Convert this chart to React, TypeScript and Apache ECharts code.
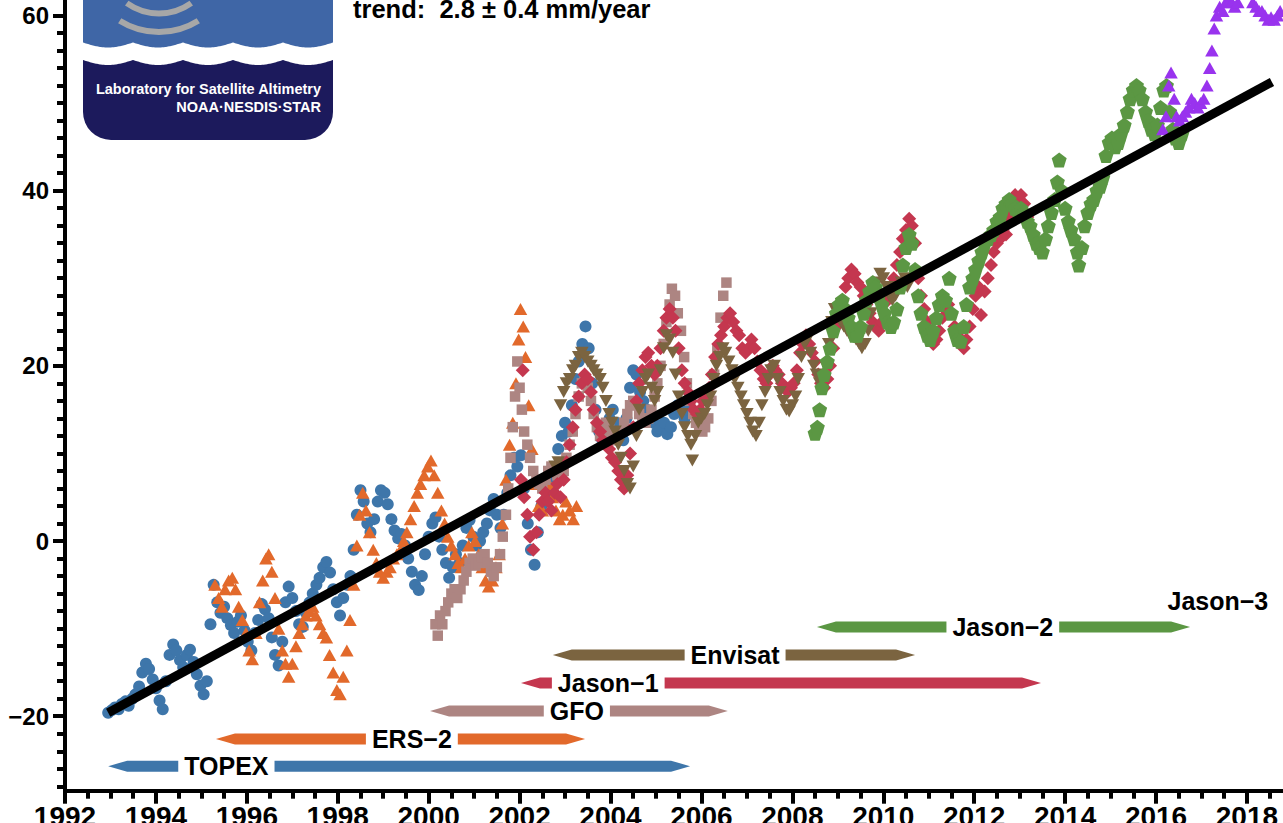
import React, { useEffect, useRef } from "react";
import * as echarts from "echarts";

// ---------------- data ----------------
const topexData: number[][] = [
  [1992.95,-19.6],[1993.03,-19.3],[1993.1,-19.0],[1993.18,-19.2],[1993.25,-18.6],[1993.33,-18.3],[1993.4,-18.8],[1993.48,-18.0],[1993.55,-17.5],[1993.63,-16.6],[1993.7,-15.0],[1993.78,-14.0],[1993.85,-14.6],[1993.93,-15.8],[1994.0,-16.8],[1994.08,-18.2],[1994.15,-19.2],[1994.22,-16.0],[1994.3,-13.0],[1994.38,-11.8],[1994.45,-12.5],[1994.53,-13.6],[1994.6,-14.4],[1994.68,-13.0],[1994.75,-12.4],[1994.83,-13.8],[1994.9,-15.2],[1994.98,-16.5],[1995.05,-17.5],[1995.12,-16.0],[1995.2,-9.5],[1995.27,-5.0],[1995.35,-7.0],[1995.42,-8.2],[1995.5,-7.5],[1995.57,-8.8],[1995.65,-9.6],[1995.72,-10.5],[1995.8,-9.2],[1995.87,-8.5],[1995.95,-10.2],[1996.02,-11.5],[1996.1,-12.5],[1996.18,-10.5],[1996.25,-9.0],[1996.33,-7.2],[1996.4,-7.8],[1996.48,-8.8],[1996.55,-11.0],[1996.62,-13.0],[1996.7,-14.2],[1996.78,-11.5],[1996.85,-7.0],[1996.92,-5.2],[1997.0,-6.5],[1997.08,-8.0],[1997.15,-9.5],[1997.23,-9.8],[1997.3,-8.2],[1997.38,-7.0],[1997.45,-6.0],[1997.53,-5.0],[1997.6,-4.2],[1997.68,-3.0],[1997.75,-2.4],[1997.83,-3.6],[1997.9,-5.5],[1997.98,-7.0],[1998.05,-8.5],[1998.12,-6.5],[1998.2,-5.0],[1998.28,-4.0],[1998.35,-1.0],[1998.42,3.0],[1998.5,5.8],[1998.57,4.5],[1998.65,2.0],[1998.72,1.0],[1998.8,2.5],[1998.88,4.5],[1998.95,5.8],[1999.03,5.5],[1999.1,4.2],[1999.18,2.5],[1999.25,1.2],[1999.33,0.3],[1999.4,0.8],[1999.48,-0.5],[1999.55,-2.0],[1999.63,-3.5],[1999.7,-5.0],[1999.78,-5.6],[1999.85,-4.0],[1999.92,-1.5],[2000.0,0.5],[2000.08,2.0],[2000.15,2.7],[2000.23,0.5],[2000.3,-1.0],[2000.38,-2.5],[2000.45,-4.2],[2000.53,-3.0],[2000.6,-1.5],[2000.68,-2.5],[2000.75,-0.5],[2000.83,1.5],[2000.9,2.4],[2000.98,0.5],[2001.05,-0.5],[2001.13,0.0],[2001.2,1.0],[2001.28,2.0],[2001.35,3.5],[2001.43,4.8],[2001.5,3.0],[2001.58,1.5],[2001.65,3.0],[2001.73,5.5],[2001.8,7.5],[2001.88,9.5],[2001.95,8.5],[2002.03,9.8],[2002.1,6.0],[2002.18,2.0],[2002.25,-1.0],[2002.33,-2.7],[2002.4,1.0],[2002.48,4.0],[2002.55,6.0],[2002.63,7.0],[2002.7,5.5],[2002.78,8.0],[2002.85,10.5],[2002.93,12.0],[2003.0,13.5],[2003.08,12.5],[2003.15,15.5],[2003.23,18.5],[2003.3,20.5],[2003.38,22.5],[2003.45,24.5],[2003.52,22.0],[2003.6,18.0],[2003.67,15.0],[2003.75,12.5],[2003.82,11.5],[2003.9,12.5],[2003.98,14.0],[2004.05,15.0],[2004.13,13.5],[2004.2,12.0],[2004.28,11.5],[2004.35,14.0],[2004.43,17.5],[2004.5,19.5],[2004.57,19.0],[2004.65,17.0],[2004.72,16.0],[2004.8,15.0],[2004.88,14.0],[2004.95,13.5],[2005.03,12.5],[2005.1,12.8],[2005.18,13.5],[2005.25,12.2],[2005.33,13.0],[2005.4,14.5],[2005.48,15.5],[2005.55,14.8],[2005.63,14.0],[2005.7,15.0]
];

const ers2Data: number[][] = [
  [1995.3,-5.0],[1995.38,-6.5],[1995.45,-7.5],[1995.52,-5.5],[1995.6,-4.5],[1995.68,-4.2],[1995.75,-5.5],[1995.82,-7.5],[1995.9,-9.0],[1995.98,-10.5],[1996.05,-12.5],[1996.12,-13.5],[1996.2,-10.5],[1996.28,-7.0],[1996.35,-4.5],[1996.42,-2.0],[1996.48,-1.5],[1996.55,-3.5],[1996.62,-6.5],[1996.7,-10.0],[1996.78,-12.5],[1996.85,-14.0],[1996.92,-15.5],[1997.0,-14.0],[1997.08,-12.0],[1997.15,-10.5],[1997.22,-9.5],[1997.3,-8.5],[1997.38,-8.0],[1997.45,-7.5],[1997.52,-8.5],[1997.6,-9.5],[1997.68,-10.5],[1997.75,-11.0],[1997.82,-13.0],[1997.9,-15.0],[1997.98,-17.0],[1998.05,-17.5],[1998.12,-15.5],[1998.2,-12.5],[1998.27,-9.0],[1998.35,-5.0],[1998.42,-0.5],[1998.48,3.0],[1998.55,5.5],[1998.62,3.5],[1998.7,1.0],[1998.78,-1.0],[1998.85,-2.5],[1998.92,-3.5],[1999.0,-4.2],[1999.08,-3.5],[1999.15,-3.0],[1999.22,-2.0],[1999.3,-1.5],[1999.38,-1.0],[1999.45,0.0],[1999.52,1.0],[1999.6,2.5],[1999.68,4.0],[1999.75,5.5],[1999.82,6.5],[1999.9,7.5],[1999.98,8.5],[2000.05,9.2],[2000.12,7.5],[2000.2,5.5],[2000.28,3.5],[2000.35,2.0],[2000.42,0.5],[2000.5,-0.5],[2000.58,-1.5],[2000.65,-2.5],[2000.72,-3.0],[2000.8,-2.0],[2000.88,-0.5],[2000.95,1.0],[2001.02,0.0],[2001.1,-1.5],[2001.18,-3.0],[2001.25,-4.5],[2001.32,-5.2],[2001.4,-4.5],[2001.48,-3.0],[2001.55,-1.5],[2001.62,2.0],[2001.7,7.0],[2001.78,11.0],[2001.85,13.5],[2001.92,18.0],[2001.98,23.0],[2002.02,26.5],[2002.08,24.5],[2002.13,21.0],[2002.2,15.5],[2002.27,10.5],[2002.35,6.5],[2002.42,4.0],[2002.5,3.5],[2002.58,5.0],[2002.65,6.5],[2002.72,5.0],[2002.8,3.5],[2002.88,2.5],[2002.95,3.0],[2003.02,4.5],[2003.1,3.5],[2003.18,2.5],[2003.25,4.0]
];

const gfoData: number[][] = [
  [2000.15,-9.5],[2000.2,-10.8],[2000.25,-8.5],[2000.3,-9.5],[2000.37,-8.0],[2000.43,-7.0],[2000.5,-6.0],[2000.57,-5.5],[2000.63,-6.5],[2000.7,-5.5],[2000.77,-4.5],[2000.83,-3.5],[2000.9,-2.5],[2000.97,-2.0],[2001.03,-2.8],[2001.1,-2.5],[2001.17,-1.8],[2001.23,-1.5],[2001.3,-2.5],[2001.37,-3.5],[2001.43,-4.0],[2001.5,-3.0],[2001.57,-1.5],[2001.63,0.5],[2001.7,3.0],[2001.75,6.0],[2001.8,9.5],[2001.85,13.0],[2001.9,16.5],[2001.95,20.5],[2002.0,17.5],[2002.05,15.0],[2002.1,12.5],[2002.17,11.0],[2002.23,9.5],[2002.3,8.0],[2002.37,7.0],[2002.43,6.5],[2002.5,6.0],[2002.57,7.0],[2002.63,8.0],[2002.7,8.5],[2002.77,8.0],[2002.83,7.5],[2002.9,7.0],[2002.97,8.0],[2003.03,9.5],[2003.1,11.0],[2003.17,12.5],[2003.23,14.5],[2003.3,16.5],[2003.37,18.0],[2003.43,18.5],[2003.5,17.5],[2003.57,16.0],[2003.63,14.5],[2003.7,13.0],[2003.77,12.0],[2003.83,12.5],[2003.9,13.5],[2003.97,13.0],[2004.03,12.0],[2004.1,11.5],[2004.17,12.0],[2004.23,12.5],[2004.3,13.5],[2004.37,14.5],[2004.43,15.5],[2004.5,16.0],[2004.57,15.5],[2004.63,14.5],[2004.7,14.0],[2004.77,13.5],[2004.83,14.0],[2004.9,15.0],[2004.97,16.5],[2005.03,18.0],[2005.1,20.0],[2005.17,22.5],[2005.23,25.0],[2005.3,27.0],[2005.35,28.8],[2005.42,28.0],[2005.48,26.0],[2005.55,24.0],[2005.62,21.0],[2005.68,18.0],[2005.75,16.0],[2005.82,14.5],[2005.88,13.5],[2005.95,13.0],[2006.02,12.5],[2006.08,13.0],[2006.15,14.0],[2006.22,16.0],[2006.28,19.0],[2006.35,22.0],[2006.42,25.5],[2006.48,28.0],[2006.55,29.5]
];

const jason1Data: number[][] = [
  [2002.03,7.0],[2002.07,19.5],[2002.1,5.0],[2002.17,3.0],[2002.23,0.5],[2002.3,-1.0],[2002.37,1.0],[2002.43,3.0],[2002.5,4.5],[2002.57,5.5],[2002.63,4.5],[2002.7,3.5],[2002.77,5.5],[2002.83,6.5],[2002.9,5.0],[2002.97,7.0],[2003.03,9.0],[2003.1,11.0],[2003.17,13.0],[2003.23,15.0],[2003.3,16.5],[2003.37,18.0],[2003.43,19.0],[2003.5,18.5],[2003.57,17.0],[2003.63,15.0],[2003.7,13.5],[2003.77,12.5],[2003.83,11.5],[2003.9,11.0],[2003.97,10.5],[2004.03,9.5],[2004.1,9.0],[2004.17,8.0],[2004.23,7.0],[2004.3,6.0],[2004.37,7.5],[2004.43,10.0],[2004.5,13.0],[2004.57,16.0],[2004.63,18.0],[2004.7,19.5],[2004.77,21.0],[2004.83,21.5],[2004.9,20.0],[2004.97,19.0],[2005.03,20.0],[2005.1,22.0],[2005.17,24.0],[2005.23,25.5],[2005.3,26.5],[2005.37,25.5],[2005.43,24.0],[2005.5,22.0],[2005.57,19.5],[2005.63,18.0],[2005.7,17.0],[2005.77,16.0],[2005.83,15.0],[2005.9,14.5],[2005.97,15.0],[2006.03,16.0],[2006.1,16.5],[2006.17,17.5],[2006.23,19.0],[2006.3,21.0],[2006.37,22.5],[2006.43,23.5],[2006.5,24.5],[2006.57,25.5],[2006.63,26.0],[2006.7,25.0],[2006.77,24.0],[2006.83,23.5],[2006.9,22.0],[2006.97,21.5],[2007.03,22.0],[2007.1,23.0],[2007.17,22.0],[2007.23,20.5],[2007.3,19.5],[2007.37,18.5],[2007.43,18.0],[2007.5,19.0],[2007.57,20.0],[2007.63,19.5],[2007.7,19.0],[2007.77,18.0],[2007.83,17.5],[2007.9,17.0],[2007.97,17.5],[2008.03,18.0],[2008.1,19.5],[2008.17,21.5],[2008.23,22.5],[2008.3,23.5],[2008.37,22.5],[2008.43,21.5],[2008.5,20.5],[2008.57,19.0],[2008.63,18.0],[2008.7,17.5],[2008.77,18.5],[2008.83,20.0],[2008.9,22.0],[2008.97,24.5],[2009.03,26.0],[2009.1,27.5],[2009.17,29.0],[2009.23,30.0],[2009.3,31.0],[2009.37,30.5],[2009.43,29.5],[2009.5,29.0],[2009.57,28.0],[2009.63,27.0],[2009.7,26.0],[2009.77,25.0],[2009.83,24.5],[2009.9,24.0],[2009.97,25.0],[2010.03,26.0],[2010.1,27.5],[2010.17,28.5],[2010.23,30.0],[2010.3,31.5],[2010.37,33.0],[2010.43,34.5],[2010.5,35.5],[2010.57,36.8],[2010.63,36.0],[2010.7,34.0],[2010.77,30.0],[2010.83,28.0],[2010.9,26.5],[2010.97,25.0],[2011.03,23.5],[2011.1,22.5],[2011.17,23.0],[2011.23,24.0],[2011.3,25.5],[2011.37,26.5],[2011.43,27.0],[2011.5,26.0],[2011.57,24.5],[2011.63,23.5],[2011.7,22.5],[2011.77,22.0],[2011.83,23.0],[2011.9,24.5],[2011.97,26.5],[2012.03,28.0],[2012.1,29.0],[2012.15,25.8],[2012.23,28.5],[2012.3,30.0],[2012.37,31.5],[2012.43,33.0],[2012.5,34.0],[2012.57,34.5],[2012.63,35.5],[2012.7,35.0],[2012.77,37.0],[2012.83,38.5],[2012.9,39.5],[2012.97,39.0],[2013.03,39.5],[2013.1,38.5],[2013.17,37.0],[2013.23,36.0],[2013.3,35.0],[2013.37,34.0],[2013.43,33.5]
];

const envisatData: number[][] = [
  [2002.78,8.5],[2002.85,9.0],[2002.9,15.5],[2002.97,17.0],[2003.03,18.0],[2003.1,18.5],[2003.17,19.5],[2003.23,20.0],[2003.3,21.0],[2003.37,21.5],[2003.43,21.0],[2003.5,20.5],[2003.57,20.0],[2003.63,19.5],[2003.7,19.0],[2003.77,18.5],[2003.83,17.5],[2003.9,16.0],[2003.97,14.5],[2004.03,13.5],[2004.1,12.5],[2004.17,11.0],[2004.23,9.5],[2004.3,8.0],[2004.37,6.5],[2004.43,6.0],[2004.5,8.5],[2004.57,12.0],[2004.63,15.0],[2004.7,17.0],[2004.77,18.5],[2004.83,19.0],[2004.9,17.5],[2004.97,16.0],[2005.03,17.0],[2005.1,19.5],[2005.17,22.0],[2005.23,23.5],[2005.3,23.0],[2005.37,21.5],[2005.43,19.0],[2005.5,16.5],[2005.57,14.5],[2005.63,13.0],[2005.7,12.0],[2005.77,11.0],[2005.8,9.2],[2005.87,12.0],[2005.93,13.5],[2006.0,14.0],[2006.07,14.5],[2006.13,15.5],[2006.2,16.5],[2006.27,18.5],[2006.33,20.0],[2006.4,21.0],[2006.47,22.0],[2006.53,21.5],[2006.6,20.5],[2006.67,19.5],[2006.73,18.5],[2006.8,17.5],[2006.87,16.5],[2006.93,15.5],[2007.0,14.5],[2007.07,13.5],[2007.13,12.5],[2007.2,12.0],[2007.27,13.5],[2007.33,15.5],[2007.4,17.0],[2007.47,18.5],[2007.53,19.5],[2007.6,20.0],[2007.67,18.5],[2007.73,17.0],[2007.8,16.0],[2007.87,15.0],[2007.93,14.8],[2008.0,15.5],[2008.07,16.5],[2008.13,18.5],[2008.2,21.0],[2008.27,22.5],[2008.33,23.0],[2008.4,21.5],[2008.47,20.0],[2008.53,19.0],[2008.6,18.0],[2008.67,18.5],[2008.73,20.0],[2008.8,22.5],[2008.87,25.0],[2008.93,26.5],[2009.0,26.0],[2009.07,25.0],[2009.13,24.5],[2009.2,24.0],[2009.27,23.5],[2009.33,23.5],[2009.4,23.0],[2009.47,22.5],[2009.53,22.0],[2009.6,22.5],[2009.67,24.0],[2009.73,26.0],[2009.8,28.0],[2009.87,29.5],[2009.93,30.5],[2010.0,30.0],[2010.07,29.0],[2010.13,28.0],[2010.2,27.5],[2010.27,28.0],[2010.33,29.0],[2010.4,29.5],[2010.47,30.0],[2010.53,29.0]
];

const jason2Data: number[][] = [
  [2008.5,12.3],[2008.55,13.0],[2008.6,15.0],[2008.65,17.5],[2008.7,19.0],[2008.77,20.5],[2008.83,22.0],[2008.9,24.0],[2008.97,26.0],[2009.03,27.0],[2009.1,27.5],[2009.17,26.5],[2009.23,25.5],[2009.3,24.5],[2009.37,23.5],[2009.43,23.5],[2009.5,24.5],[2009.57,26.0],[2009.63,27.5],[2009.7,28.5],[2009.77,29.5],[2009.83,29.0],[2009.9,28.0],[2009.97,27.0],[2010.03,26.0],[2010.1,25.0],[2010.17,24.5],[2010.23,25.0],[2010.3,26.5],[2010.37,29.0],[2010.43,31.5],[2010.5,33.5],[2010.57,35.0],[2010.63,34.0],[2010.7,31.0],[2010.77,28.0],[2010.83,26.0],[2010.9,24.5],[2010.97,23.5],[2011.03,23.0],[2011.1,24.0],[2011.17,25.5],[2011.23,27.0],[2011.3,28.0],[2011.37,27.5],[2011.45,30.0],[2011.5,26.0],[2011.57,24.0],[2011.63,23.0],[2011.7,22.8],[2011.77,24.5],[2011.83,27.0],[2011.9,29.0],[2011.97,30.0],[2012.03,31.0],[2012.1,32.0],[2012.17,33.0],[2012.23,34.0],[2012.3,34.5],[2012.37,35.0],[2012.43,35.5],[2012.5,36.5],[2012.57,37.0],[2012.63,38.0],[2012.7,38.5],[2012.77,39.0],[2012.83,38.5],[2012.9,38.0],[2012.97,37.5],[2013.03,38.0],[2013.1,37.5],[2013.17,36.5],[2013.23,36.0],[2013.3,35.0],[2013.37,34.0],[2013.43,33.5],[2013.5,33.0],[2013.57,34.5],[2013.63,36.0],[2013.7,37.5],[2013.77,39.0],[2013.83,41.0],[2013.87,43.5],[2013.93,40.0],[2014.0,38.0],[2014.07,36.5],[2014.13,35.5],[2014.2,34.5],[2014.27,33.0],[2014.3,31.5],[2014.37,33.5],[2014.43,36.0],[2014.5,37.5],[2014.57,38.5],[2014.63,39.0],[2014.7,40.0],[2014.77,40.5],[2014.83,41.5],[2014.9,44.0],[2014.97,45.5],[2015.03,46.0],[2015.1,45.0],[2015.17,45.5],[2015.23,46.5],[2015.3,47.5],[2015.37,49.0],[2015.43,50.5],[2015.5,51.5],[2015.57,52.0],[2015.63,51.5],[2015.7,50.5],[2015.77,49.0],[2015.83,48.0],[2015.9,47.0],[2015.97,46.5],[2016.03,47.5],[2016.1,49.5],[2016.17,51.5],[2016.23,52.0],[2016.3,49.0],[2016.37,47.0],[2016.43,46.0],[2016.5,45.5],[2016.57,46.5]
];

const jason3Data: number[][] = [
  [2016.15,47.0],[2016.22,48.5],[2016.28,52.0],[2016.33,53.5],[2016.4,50.5],[2016.45,48.5],[2016.52,48.0],[2016.58,48.5],[2016.65,49.0],[2016.72,49.5],[2016.78,50.5],[2016.85,50.0],[2016.92,49.5],[2016.98,50.0],[2017.05,50.5],[2017.12,52.0],[2017.18,54.0],[2017.23,56.0],[2017.28,58.5],[2017.33,60.0],[2017.4,61.0],[2017.47,60.5],[2017.53,61.5],[2017.6,62.0],[2017.67,61.5],[2017.73,61.0],[2017.8,61.5],[2017.87,63.0],[2017.93,64.5],[2018.0,64.0],[2018.07,62.5],[2018.13,61.5],[2018.2,61.0],[2018.27,60.5],[2018.33,60.5],[2018.4,60.0],[2018.47,59.5],[2018.53,59.8],[2018.6,59.5],[2018.67,60.0],[2018.73,60.5]
];

const trendData: number[][] = [[1992.95, -19.6], [2018.55, 52.4]];
const trendText = "trend:  2.8 ± 0.4 mm/year";

// mission period arrows
const missionNames = ["TOPEX", "ERS\u22122", "GFO", "Jason\u22121", "Envisat", "Jason\u22122", "Jason\u22123"];
const missionStart = [1992.95, 1995.32, 2000.03, 2002.03, 2002.73, 2008.54, 2017.36];
const missionEnd = [2005.75, 2003.44, 2006.58, 2013.47, 2010.7, 2016.75, 2017.36];
const missionLevel = [-25.7, -22.6, -19.4, -16.2, -13.0, -9.8, -6.85];
const missionLabelAt = [1995.55, 1999.63, 2003.26, 2003.95, 2006.74, 2012.63, 2017.36];

// axis ticks
const xMajorTicks = [1992, 1994, 1996, 1998, 2000, 2002, 2004, 2006, 2008, 2010, 2012, 2014, 2016, 2018];
const yMajorTicks = [-20, 0, 20, 40, 60];
const xMinorTicks: number[] = [];
for (let v = 1992.5; v <= 2019; v += 0.5) if (!xMajorTicks.includes(v)) xMinorTicks.push(v);
const yMinorTicks: number[] = [];
for (let v = -28; v <= 64; v += 2) if (!yMajorTicks.includes(v)) yMinorTicks.push(v);

// ---------------- styles ----------------
const FONT = '"Liberation Sans", Arial, Helvetica, sans-serif';
const COLORS = {
  topex: "#3e76aa",
  ers2: "#e2692b",
  gfo: "#ad8582",
  jason1: "#c4374f",
  envisat: "#7b6440",
  jason2: "#5b9743",
  jason3: "#9933ee",
};
const missionColors = [COLORS.topex, COLORS.ers2, COLORS.gfo, COLORS.jason1, COLORS.envisat, COLORS.jason2, COLORS.jason3];
const OY = 40; // chart div is shifted up by this many px (reference is a crop)

const PENTAGON = "path://M0,-10 L9.51,-3.09 L5.88,8.09 L-5.88,8.09 L-9.51,-3.09 Z";
const TRI_DOWN = "path://M0,0 L10,0 L5,8.66 Z";

let measureCtx: CanvasRenderingContext2D | null = null;
function textWidth(t: string, size: number): number {
  if (!measureCtx) measureCtx = document.createElement("canvas").getContext("2d");
  if (!measureCtx) return t.length * size * 0.6;
  measureCtx.font = `bold ${size}px ${FONT}`;
  return measureCtx.measureText(t).width;
}

function wavePoints(base: number, amp: number): number[][] {
  const pts: number[][] = [];
  for (let x = 83; x <= 333; x += 1) {
    const f = ((((x - 133) / 50) % 1) + 1) % 1;
    pts.push([x, base + amp * Math.sin(Math.PI * f) + OY]);
  }
  pts.push([333, 0], [83, 0]);
  return pts;
}

const LABEL_SIZE = 25;

export default function App() {
  const ref = useRef<HTMLDivElement>(null);

  useEffect(() => {
    if (!ref.current) return;
    const chart = echarts.init(ref.current, null, { renderer: "svg" });

    const axisLabelStyle = {
      fontWeight: "bold" as const,
      color: "#000",
      fontFamily: FONT,
    };
    const tickLine = { color: "#000", width: 4 };

    const scatter = (name: string, data: number[][], symbol: string, size: any, color: string) => ({
      type: "scatter",
      name,
      data,
      symbol,
      symbolSize: size,
      itemStyle: { color, opacity: 1 },
      silent: true,
      z: 2,
    });

    const option: any = {
      animation: false,
      backgroundColor: "#ffffff",
      grid: { left: 65, top: 20.4, width: 1227.4, height: 810.3, containLabel: false, outerBoundsMode: "none" },
      xAxis: [
        {
          type: "value",
          min: 1992,
          max: 2019,
          position: "bottom",
          axisLine: { show: true, onZero: false, lineStyle: tickLine },
          axisTick: { show: true, customValues: xMajorTicks, length: 13, lineStyle: tickLine },
          axisLabel: { ...axisLabelStyle, fontSize: 28, customValues: xMajorTicks, margin: 12, formatter: (v: number) => String(v) },
          splitLine: { show: false },
        },
        {
          type: "value",
          min: 1992,
          max: 2019,
          position: "bottom",
          axisLine: { show: false, onZero: false },
          axisTick: { show: true, customValues: xMinorTicks, length: 8, lineStyle: tickLine },
          axisLabel: { show: false },
          splitLine: { show: false },
        },
      ],
      yAxis: [
        {
          type: "value",
          min: -28.5,
          max: 64,
          position: "left",
          axisLine: { show: true, onZero: false, lineStyle: tickLine },
          axisTick: { show: true, customValues: yMajorTicks, length: 12, lineStyle: tickLine },
          axisLabel: {
            ...axisLabelStyle,
            fontSize: 24,
            customValues: yMajorTicks,
            margin: 16,
            formatter: (v: number) => (v < 0 ? "\u2212" + Math.abs(v) : String(v)),
          },
          splitLine: { show: false },
        },
        {
          type: "value",
          min: -28.5,
          max: 64,
          position: "left",
          axisLine: { show: false, onZero: false },
          axisTick: { show: true, customValues: yMinorTicks, length: 8, lineStyle: tickLine },
          axisLabel: { show: false },
          splitLine: { show: false },
        },
      ],
      graphic: {
        elements: [
          {
            type: "rect",
            z: 100,
            shape: { x: 83, y: 0, width: 250, height: 140 + OY, r: [0, 0, 28, 28] },
            style: { fill: "#1c1a5c" },
          },
          { type: "polygon", z: 101, shape: { points: wavePoints(60, 5) }, style: { fill: "#ffffff" } },
          { type: "polygon", z: 102, shape: { points: wavePoints(42.5, 5) }, style: { fill: "#3f66a6" } },
          {
            type: "arc",
            z: 103,
            shape: { cx: 159, cy: -42 + OY, r: 74, startAngle: Math.PI / 2 - 0.56, endAngle: Math.PI / 2 + 0.56, clockwise: true },
            style: { stroke: "#a7a7a7", lineWidth: 6, fill: "none" },
          },
          {
            type: "arc",
            z: 103,
            shape: { cx: 159, cy: -42 + OY, r: 55.5, startAngle: Math.PI / 2 - 0.62, endAngle: Math.PI / 2 + 0.62, clockwise: true },
            style: { stroke: "#a7a7a7", lineWidth: 6, fill: "none" },
          },
          {
            type: "text",
            z: 104,
            x: 321,
            y: 89 + OY,
            style: {
              text: "Laboratory for Satellite Altimetry",
              fill: "#ffffff",
              fontSize: 14.5,
              fontWeight: "bold",
              fontFamily: FONT,
              align: "right",
              verticalAlign: "middle",
            },
          },
          {
            type: "text",
            z: 104,
            x: 321,
            y: 107 + OY,
            style: {
              text: "NOAA\u00b7NESDIS\u00b7STAR",
              fill: "#ffffff",
              fontSize: 14.5,
              fontWeight: "bold",
              fontFamily: FONT,
              align: "right",
              verticalAlign: "middle",
            },
          },
          {
            type: "text",
            z: 104,
            x: 353,
            y: 8.5 + OY,
            style: {
              text: trendText,
              fill: "#000000",
              fontSize: 25.5,
              fontWeight: "bold",
              fontFamily: FONT,
              align: "left",
              verticalAlign: "middle",
            },
          },
        ],
      },
      series: [
        scatter("TOPEX", topexData, "circle", 12, COLORS.topex),
        scatter("ERS-2", ers2Data, "triangle", [13.5, 12], COLORS.ers2),
        scatter("GFO", gfoData, "rect", 10.5, COLORS.gfo),
        scatter("Jason-1", jason1Data, "diamond", [14, 14], COLORS.jason1),
        scatter("Envisat", envisatData, TRI_DOWN, [13.5, 12], COLORS.envisat),
        scatter("Jason-2", jason2Data, PENTAGON, 15, COLORS.jason2),
        scatter("Jason-3", jason3Data, "triangle", [13.5, 12], COLORS.jason3),
        {
          type: "line",
          name: "trend",
          data: trendData,
          symbol: "none",
          silent: true,
          lineStyle: { color: "#000000", width: 9, cap: "butt" },
          z: 10,
        },
        {
          type: "custom",
          name: "missions",
          coordinateSystem: "cartesian2d",
          silent: true,
          clip: false,
          z: 5,
          data: missionNames.map((_, i) => [missionStart[i], missionEnd[i], missionLevel[i], missionLabelAt[i]]),
          encode: { x: [0, 1, 3], y: 2 },
          renderItem: (params: any, api: any) => {
            const i = params.dataIndex;
            const lvl = api.value(2);
            const s = api.coord([api.value(0), lvl]);
            const e = api.coord([api.value(1), lvl]);
            const l = api.coord([api.value(3), lvl]);
            const y = s[1];
            const name = missionNames[i];
            const color = missionColors[i];
            const tw = textWidth(name, LABEL_SIZE);
            const half = 5.5;
            const head = 19;
            const pad = 6;
            const children: any[] = [];
            if (e[0] - s[0] > 5) {
              const gl = l[0] - tw / 2 - pad;
              const gr = l[0] + tw / 2 + pad;
              children.push({
                type: "polygon",
                shape: {
                  points: [
                    [s[0], y],
                    [s[0] + head, y - half],
                    [gl, y - half],
                    [gl, y + half],
                    [s[0] + head, y + half],
                  ],
                },
                style: { fill: color },
              });
              children.push({
                type: "polygon",
                shape: {
                  points: [
                    [gr, y - half],
                    [e[0] - head, y - half],
                    [e[0], y],
                    [e[0] - head, y + half],
                    [gr, y + half],
                  ],
                },
                style: { fill: color },
              });
            }
            children.push({
              type: "text",
              x: l[0],
              y: y,
              style: {
                text: name,
                fill: "#000000",
                fontSize: LABEL_SIZE,
                fontWeight: "bold",
                fontFamily: FONT,
                align: "center",
                verticalAlign: "middle",
              },
            });
            return { type: "group", children };
          },
        },
      ],
    };

    chart.setOption(option);
    return () => chart.dispose();
  }, []);

  return (
    <div
      style={{
        position: "fixed",
        left: 0,
        top: 0,
        width: 1283,
        height: 823,
        overflow: "hidden",
        background: "#ffffff",
      }}
    >
      <div ref={ref} style={{ position: "absolute", left: 0, top: -OY, width: 1300, height: 900 }} />
    </div>
  );
}
